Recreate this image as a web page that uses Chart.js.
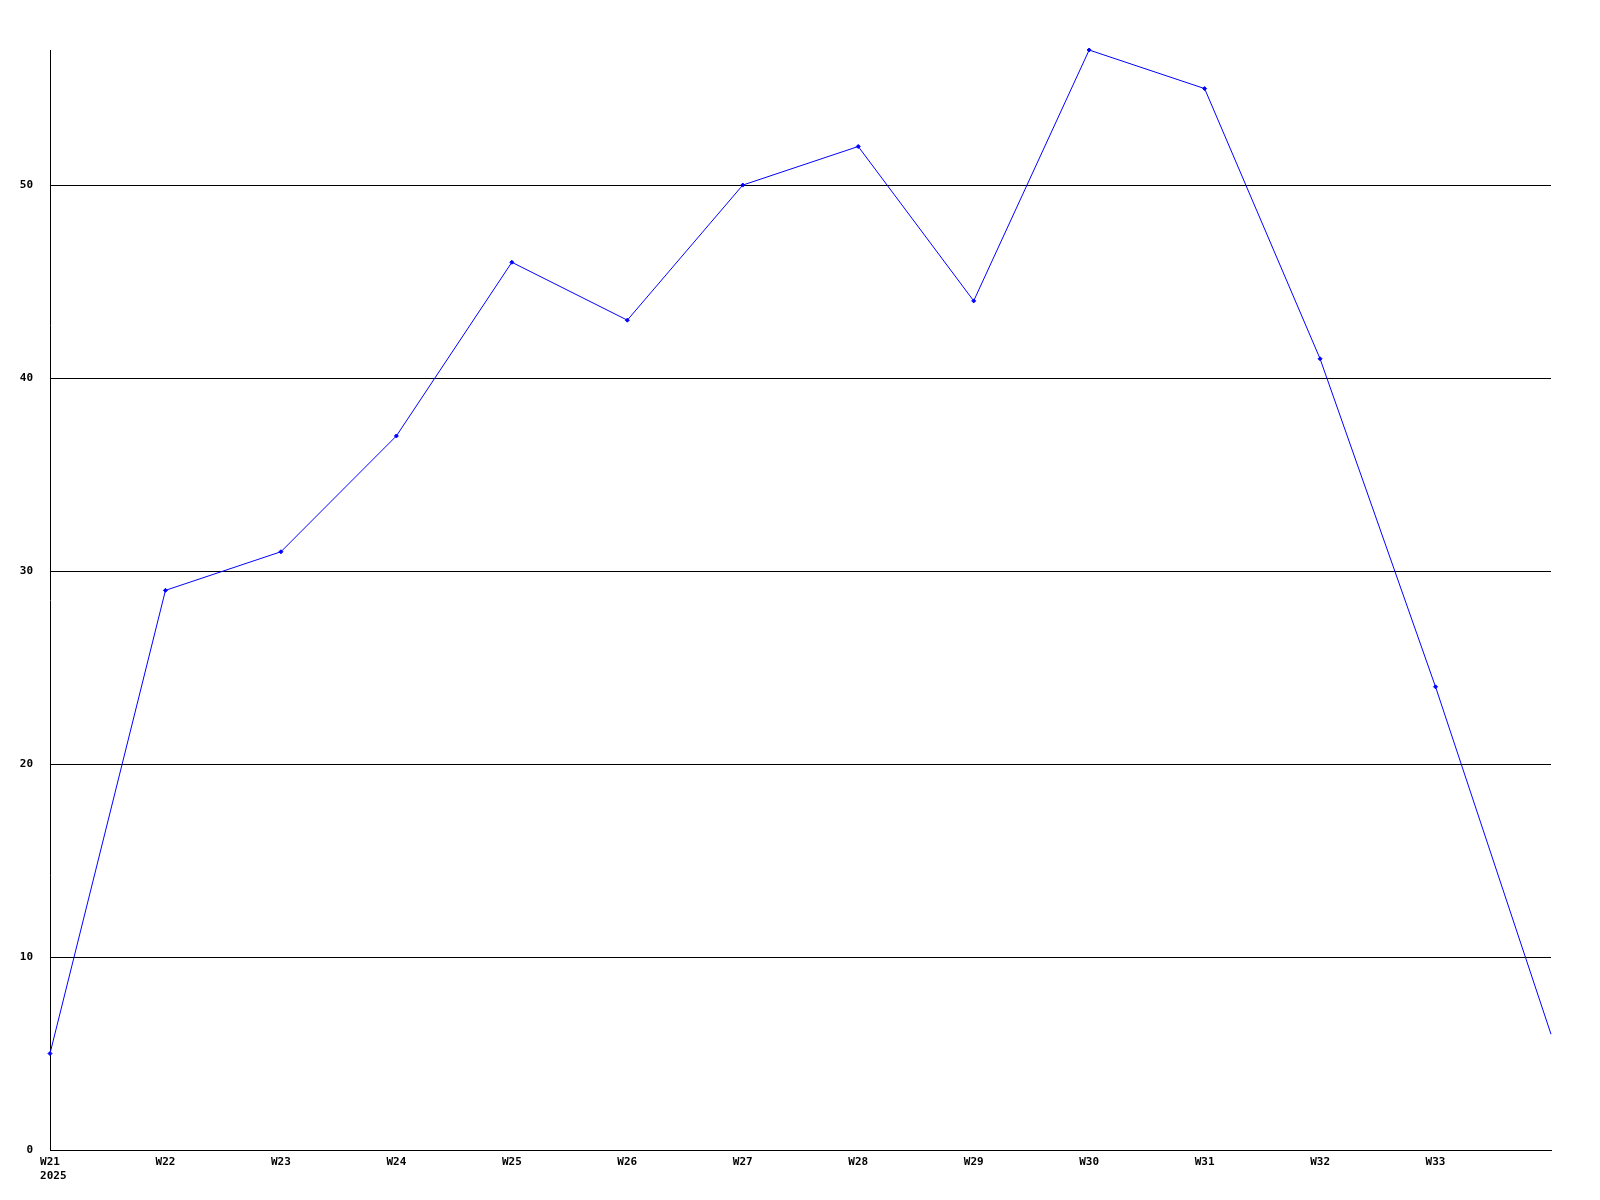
<!DOCTYPE html>
<html>
<head>
<meta charset="utf-8">
<script src="https://cdn.jsdelivr.net/npm/chart.js@4/dist/chart.umd.min.js"></script>
<style>
  body { margin: 0; background: #fff; }
  canvas { display: block; }
</style>
</head>
<body>
<canvas id="myChart" width="1600" height="1200"></canvas>
<script>
// weeks (last point has no label in the original)
var weeks = ['W21', 'W22', 'W23', 'W24', 'W25', 'W26', 'W27', 'W28', 'W29', 'W30', 'W31', 'W32', 'W33', ''];
var year = '2025';
var counts = [5, 29, 31, 37, 46, 43, 50, 52, 44, 57, 55, 41, 24, 6];
var yTicks = [0, 10, 20, 30, 40, 50];
var yMax = 57;

var tickFont = { family: 'DejaVu Sans Mono', size: 11, weight: 'bold' };

var ctx = document.getElementById('myChart').getContext('2d');
var chart = new Chart(ctx, {
  type: 'line',
  data: {
    labels: weeks,
    datasets: [{
      data: counts,
      borderColor: '#0000ff',
      backgroundColor: '#0000ff',
      borderWidth: 1,
      tension: 0,
      pointStyle: 'rectRot',
      // no marker on the trailing (unlabelled) point
      pointRadius: function(c) { return c.dataIndex === counts.length - 1 ? 0 : 2; },
      pointBorderWidth: 1,
      clip: false
    }]
  },
  options: {
    responsive: false,
    animation: false,
    layout: { padding: { top: 50, right: 49, left: 0, bottom: 0 } },
    plugins: { legend: { display: false }, tooltip: { enabled: false } },
    scales: {
      x: {
        offset: false,
        grid: { color: 'rgba(0,0,0,0)', drawTicks: false },
        border: { display: true, color: '#000', width: 1 },
        ticks: {
          color: '#000',
          font: tickFont,
          padding: 6,
          maxRotation: 0,
          autoSkip: false,
          callback: function(v, i) {
            // leading space keeps the year lined up under the week label
            return i === 0 ? [weeks[i], ' ' + year] : weeks[i];
          }
        },
        afterFit: function(s) { s.height = 50; }
      },
      y: {
        min: 0,
        max: yMax,
        grid: { color: '#000', drawTicks: false, lineWidth: 1 },
        border: { display: true, color: '#000', width: 1 },
        ticks: { color: '#000', font: tickFont, padding: 17, stepSize: 10 },
        afterBuildTicks: function(s) {
          s.ticks = yTicks.map(function(v) { return { value: v }; });
        },
        afterFit: function(s) { s.width = 50; }
      }
    }
  }
});
</script>
</body>
</html>
